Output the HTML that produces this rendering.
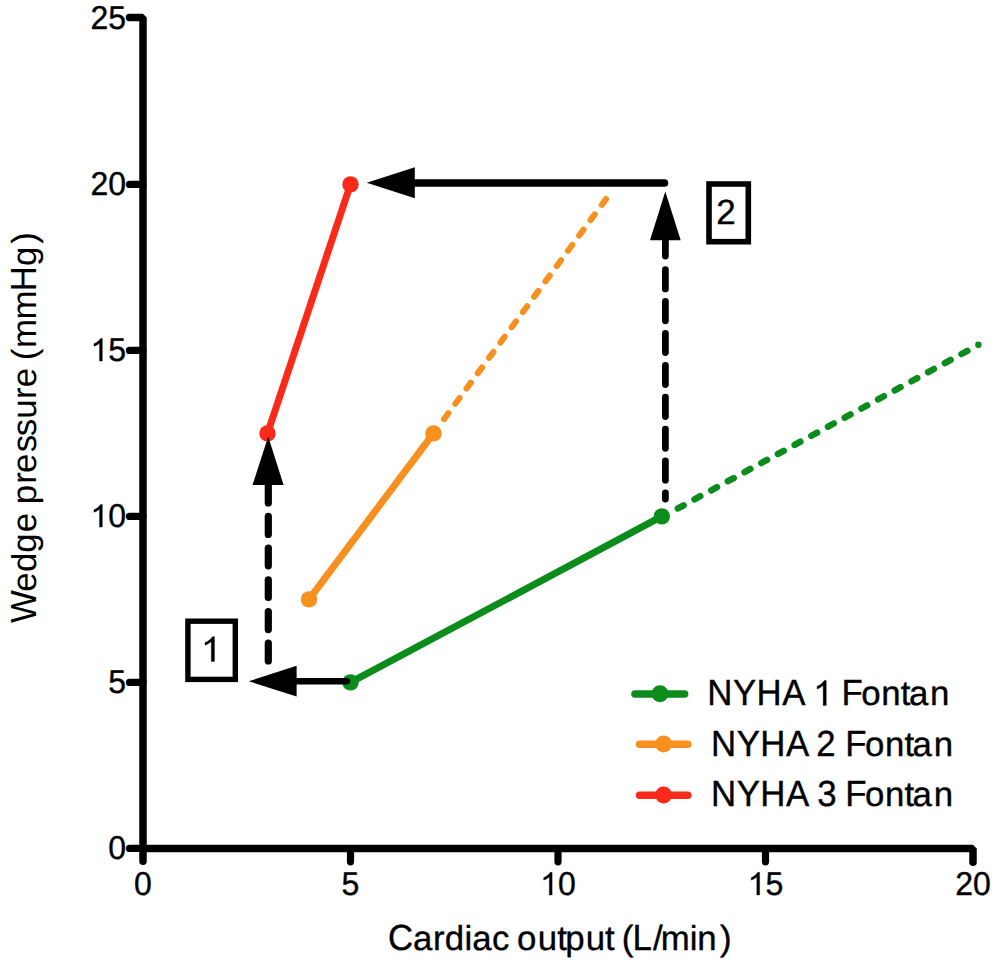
<!DOCTYPE html>
<html><head><meta charset="utf-8"><style>
html,body{margin:0;padding:0;background:#fff;}
body{width:1000px;height:966px;overflow:hidden;}
svg{display:block;}
.t{font-family:"Liberation Sans",sans-serif;fill:#000;stroke:#000;stroke-width:0.35px;text-rendering:geometricPrecision;}
.ns{stroke:none;}
</style></head><body>
<svg width="1000" height="966" viewBox="0 0 1000 966">
<rect width="1000" height="966" fill="#fff"/>
<path d="M129.5,17.55 H143 V861.2" fill="none" stroke="#000" stroke-width="7.5" stroke-linejoin="bevel" stroke-linecap="round"/>
<path d="M143,848.4 H973.0 V862.2" fill="none" stroke="#000" stroke-width="7.5" stroke-linejoin="bevel" stroke-linecap="round"/>
<line x1="129.5" y1="848.4" x2="143" y2="848.4" stroke="#000" stroke-width="7.2" stroke-linecap="round"/>
<line x1="129.5" y1="682.4" x2="143" y2="682.4" stroke="#000" stroke-width="7.2" stroke-linecap="round"/>
<line x1="129.5" y1="516.4" x2="143" y2="516.4" stroke="#000" stroke-width="7.2" stroke-linecap="round"/>
<line x1="129.5" y1="350.4" x2="143" y2="350.4" stroke="#000" stroke-width="7.2" stroke-linecap="round"/>
<line x1="129.5" y1="184.4" x2="143" y2="184.4" stroke="#000" stroke-width="7.2" stroke-linecap="round"/>
<line x1="350.5" y1="850" x2="350.5" y2="861.8" stroke="#000" stroke-width="7.2" stroke-linecap="round"/>
<line x1="558.0" y1="850" x2="558.0" y2="861.8" stroke="#000" stroke-width="7.2" stroke-linecap="round"/>
<line x1="765.5" y1="850" x2="765.5" y2="861.8" stroke="#000" stroke-width="7.2" stroke-linecap="round"/>
<text transform="translate(108.20,859.1) scale(1,1.03)" class="t" font-size="32">0</text>
<text transform="translate(108.20,693.1) scale(1,1.03)" class="t" font-size="32">5</text>
<path d="M763,0H583V1130C500,1040 380,975 224,925V1075C420,1150 560,1280 647,1409H763Z" transform="translate(90.41,527.1) scale(0.015625,-0.016094)" fill="#000" stroke="#000" stroke-width="22.4"/>
<text transform="translate(108.20,527.1) scale(1,1.03)" class="t" font-size="32">0</text>
<path d="M763,0H583V1130C500,1040 380,975 224,925V1075C420,1150 560,1280 647,1409H763Z" transform="translate(90.41,361.1) scale(0.015625,-0.016094)" fill="#000" stroke="#000" stroke-width="22.4"/>
<text transform="translate(108.20,361.1) scale(1,1.03)" class="t" font-size="32">5</text>
<text transform="translate(90.41,195.1) scale(1,1.03)" class="t" font-size="32">2</text>
<text transform="translate(108.20,195.1) scale(1,1.03)" class="t" font-size="32">0</text>
<text transform="translate(90.41,29.1) scale(1,1.03)" class="t" font-size="32">2</text>
<text transform="translate(108.20,29.1) scale(1,1.03)" class="t" font-size="32">5</text>
<text transform="translate(134.10,895.0) scale(1,1.03)" class="t" font-size="32">0</text>
<text transform="translate(341.60,895.0) scale(1,1.03)" class="t" font-size="32">5</text>
<path d="M763,0H583V1130C500,1040 380,975 224,925V1075C420,1150 560,1280 647,1409H763Z" transform="translate(540.20,895.0) scale(0.015625,-0.016094)" fill="#000" stroke="#000" stroke-width="22.4"/>
<text transform="translate(558.00,895.0) scale(1,1.03)" class="t" font-size="32">0</text>
<path d="M763,0H583V1130C500,1040 380,975 224,925V1075C420,1150 560,1280 647,1409H763Z" transform="translate(747.70,895.0) scale(0.015625,-0.016094)" fill="#000" stroke="#000" stroke-width="22.4"/>
<text transform="translate(765.50,895.0) scale(1,1.03)" class="t" font-size="32">5</text>
<text transform="translate(955.20,895.0) scale(1,1.03)" class="t" font-size="32">2</text>
<text transform="translate(973.00,895.0) scale(1,1.03)" class="t" font-size="32">0</text>
<text transform="translate(387.98,949.5) scale(1,1.045)" class="t" font-size="34.8">C</text>
<text transform="translate(413.02,949.5) scale(1,0.99)" class="t" font-size="34.8">a</text>
<text transform="translate(432.94,949.5) scale(1,0.99)" class="t" font-size="34.8">r</text>
<text transform="translate(444.79,949.5) scale(1,0.99)" class="t" font-size="34.8">d</text>
<text transform="translate(464.42,949.5) scale(1,0.99)" class="t" font-size="34.8">i</text>
<text transform="translate(472.27,949.5) scale(1,0.99)" class="t" font-size="34.8">a</text>
<text transform="translate(492.02,949.5) scale(1,0.99)" class="t" font-size="34.8">c</text>
<text transform="translate(517.04,949.5) scale(1,0.99)" class="t" font-size="34.8">o</text>
<text transform="translate(537.74,949.5) scale(1,0.99)" class="t" font-size="34.8">u</text>
<text transform="translate(557.22,949.5) scale(1,0.99)" class="t" font-size="34.8">t</text>
<text transform="translate(565.26,949.5) scale(1,0.99)" class="t" font-size="34.8">p</text>
<text transform="translate(585.74,949.5) scale(1,0.99)" class="t" font-size="34.8">u</text>
<text transform="translate(605.07,949.5) scale(1,0.99)" class="t" font-size="34.8">t</text>
<text transform="translate(621.84,949.5)" class="t" font-size="34.8">(</text>
<text transform="translate(632.40,949.5) scale(1,1.045)" class="t" font-size="34.8">L</text>
<text transform="translate(653.00,949.5)" class="t" font-size="34.8">/</text>
<text transform="translate(660.69,949.5) scale(1,0.99)" class="t" font-size="34.8">m</text>
<text transform="translate(689.67,949.5) scale(1,0.99)" class="t" font-size="34.8">i</text>
<text transform="translate(697.19,949.5) scale(1,0.99)" class="t" font-size="34.8">n</text>
<text transform="translate(720.05,949.5)" class="t" font-size="34.8">)</text>
<text transform="translate(36.4,428.4) rotate(-90) translate(-194.55,0) scale(1,1.045)" class="t ns" font-size="34.8">W</text>
<text transform="translate(36.4,428.4) rotate(-90) translate(-163.28,0) scale(1,0.99)" class="t ns" font-size="34.8">e</text>
<text transform="translate(36.4,428.4) rotate(-90) translate(-143.66,0) scale(1,0.99)" class="t ns" font-size="34.8">d</text>
<text transform="translate(36.4,428.4) rotate(-90) translate(-124.46,0) scale(1,0.99)" class="t ns" font-size="34.8">g</text>
<text transform="translate(36.4,428.4) rotate(-90) translate(-103.78,0) scale(1,0.99)" class="t ns" font-size="34.8">e</text>
<text transform="translate(36.4,428.4) rotate(-90) translate(-75.94,0) scale(1,0.99)" class="t ns" font-size="34.8">p</text>
<text transform="translate(36.4,428.4) rotate(-90) translate(-55.31,0) scale(1,0.99)" class="t ns" font-size="34.8">r</text>
<text transform="translate(36.4,428.4) rotate(-90) translate(-44.58,0) scale(1,0.99)" class="t ns" font-size="34.8">e</text>
<text transform="translate(36.4,428.4) rotate(-90) translate(-23.97,0) scale(1,0.99)" class="t ns" font-size="34.8">s</text>
<text transform="translate(36.4,428.4) rotate(-90) translate(-7.77,0) scale(1,0.99)" class="t ns" font-size="34.8">s</text>
<text transform="translate(36.4,428.4) rotate(-90) translate(9.54,0) scale(1,0.99)" class="t ns" font-size="34.8">u</text>
<text transform="translate(36.4,428.4) rotate(-90) translate(29.49,0) scale(1,0.99)" class="t ns" font-size="34.8">r</text>
<text transform="translate(36.4,428.4) rotate(-90) translate(41.12,0) scale(1,0.99)" class="t ns" font-size="34.8">e</text>
<text transform="translate(36.4,428.4) rotate(-90) translate(68.04,0)" class="t ns" font-size="34.8">(</text>
<text transform="translate(36.4,428.4) rotate(-90) translate(80.49,0) scale(1,0.99)" class="t ns" font-size="34.8">m</text>
<text transform="translate(36.4,428.4) rotate(-90) translate(108.79,0) scale(1,0.99)" class="t ns" font-size="34.8">m</text>
<text transform="translate(36.4,428.4) rotate(-90) translate(137.25,0) scale(1,1.045)" class="t ns" font-size="34.8">H</text>
<text transform="translate(36.4,428.4) rotate(-90) translate(162.34,0) scale(1,0.99)" class="t ns" font-size="34.8">g</text>
<text transform="translate(36.4,428.4) rotate(-90) translate(184.70,0)" class="t ns" font-size="34.8">)</text>
<path d="M677.82,508.45L683.62,505.29M694.51,499.36L700.31,496.21M711.20,490.28L716.99,487.12M727.88,481.19L733.68,478.03M744.57,472.11L750.37,468.95M761.26,463.02L767.05,459.86M777.94,453.93L783.74,450.78M794.63,444.85L800.43,441.69M811.32,435.76L817.11,432.61M828.00,426.68L833.80,423.52M844.69,417.59L850.49,414.43M861.38,408.50L867.17,405.35M878.06,399.42L883.86,396.26M894.75,390.33L900.55,387.18M911.44,381.25L917.23,378.09M928.12,372.16L933.92,369.00M944.81,363.07L950.61,359.92M961.50,353.99L967.29,350.83M978.36,344.81l0.01,0" stroke="#0b8c1b" stroke-width="6.5" stroke-linecap="round" fill="none"/>
<path d="M444.05,419.07L448.32,413.27M455.32,403.77L459.59,397.97M466.59,388.47L470.86,382.67M477.85,373.17L482.12,367.37M489.12,357.87L493.39,352.07M500.39,342.57L504.65,336.77M511.65,327.27L515.92,321.47M522.92,311.97L527.19,306.17M534.18,296.67L538.45,290.87M545.45,281.37L549.72,275.57M556.72,266.07L560.99,260.27M567.98,250.77L572.25,244.98M579.25,235.47L583.52,229.68M590.51,220.17L594.78,214.38M601.78,204.87L606.05,199.08" stroke="#f8901f" stroke-width="6.1" stroke-linecap="round" fill="none"/>
<line x1="350.5" y1="682.4" x2="661.8" y2="516.4" stroke="#0b8c1b" stroke-width="7"/>
<line x1="309.0" y1="599.4" x2="433.5" y2="433.4" stroke="#f8901f" stroke-width="7"/>
<line x1="267.5" y1="433.4" x2="350.5" y2="184.4" stroke="#fa2a1a" stroke-width="7"/>
<circle cx="350.5" cy="682.4" r="8.2" fill="#0b8c1b"/>
<circle cx="661.8" cy="516.4" r="8.2" fill="#0b8c1b"/>
<circle cx="309.0" cy="599.4" r="8.2" fill="#f8901f"/>
<circle cx="433.5" cy="433.4" r="8.2" fill="#f8901f"/>
<circle cx="267.5" cy="433.4" r="8.2" fill="#fa2a1a"/>
<circle cx="350.5" cy="184.4" r="8.2" fill="#fa2a1a"/>
<line x1="347" y1="681.2" x2="290" y2="681.2" stroke="#000" stroke-width="6.6" stroke-linecap="round"/>
<polygon points="248.8,681.2 296.6,665.8 296.6,696.6" fill="#000"/>
<line x1="268.3" y1="660.9" x2="268.3" y2="643.0" stroke="#000" stroke-width="7.2" stroke-linecap="round"/>
<line x1="268.3" y1="629.6" x2="268.3" y2="611.6" stroke="#000" stroke-width="7.2" stroke-linecap="round"/>
<line x1="268.3" y1="597.5" x2="268.3" y2="579.9" stroke="#000" stroke-width="7.2" stroke-linecap="round"/>
<line x1="268.3" y1="565.8" x2="268.3" y2="548.2" stroke="#000" stroke-width="7.2" stroke-linecap="round"/>
<line x1="268.3" y1="534.4" x2="268.3" y2="516.3" stroke="#000" stroke-width="7.2" stroke-linecap="round"/>
<line x1="268.3" y1="502.9" x2="268.3" y2="483.6" stroke="#000" stroke-width="7.2" stroke-linecap="round"/>
<polygon points="268.2,436.6 252.5,485.1 283.6,485.1" fill="#000"/>
<line x1="665.4" y1="499.1" x2="665.4" y2="492.8" stroke="#000" stroke-width="6.8" stroke-linecap="round"/>
<line x1="665.4" y1="480.2" x2="665.4" y2="460.9" stroke="#000" stroke-width="6.8" stroke-linecap="round"/>
<line x1="665.4" y1="448.3" x2="665.4" y2="429.1" stroke="#000" stroke-width="6.8" stroke-linecap="round"/>
<line x1="665.4" y1="416.5" x2="665.4" y2="397.2" stroke="#000" stroke-width="6.8" stroke-linecap="round"/>
<line x1="665.4" y1="384.6" x2="665.4" y2="365.3" stroke="#000" stroke-width="6.8" stroke-linecap="round"/>
<line x1="665.4" y1="352.6" x2="665.4" y2="333.4" stroke="#000" stroke-width="6.8" stroke-linecap="round"/>
<line x1="665.4" y1="320.8" x2="665.4" y2="301.5" stroke="#000" stroke-width="6.8" stroke-linecap="round"/>
<line x1="665.4" y1="288.9" x2="665.4" y2="269.6" stroke="#000" stroke-width="6.8" stroke-linecap="round"/>
<line x1="665.4" y1="256.1" x2="665.4" y2="239.4" stroke="#000" stroke-width="6.8" stroke-linecap="round"/>
<polygon points="665.3,191.5 650,240.2 680.7,240.2" fill="#000"/>
<line x1="664.5" y1="183" x2="410" y2="183" stroke="#000" stroke-width="7.6" stroke-linecap="round"/>
<polygon points="366.8,182.8 414.8,167.3 414.8,198.3" fill="#000"/>
<rect x="187.9" y="621.2" width="47.4" height="58.2" fill="#fff" stroke="#000" stroke-width="5.4"/>
<path d="M763,0H583V1130C500,1040 380,975 224,925V1075C420,1150 560,1280 647,1409H763Z" transform="translate(201.06,661.4) scale(0.017578,-0.017578)" fill="#000" stroke="#000" stroke-width="19.9"/>
<rect x="709" y="184" width="39.3" height="57.7" fill="#fff" stroke="#000" stroke-width="5.6"/>
<text transform="translate(716.24,224.1)" class="t" font-size="35">2</text>
<line x1="635" y1="694" x2="684.6" y2="694" stroke="#0b8c1b" stroke-width="7.6" stroke-linecap="round"/>
<circle cx="660" cy="693.7" r="8.5" fill="#0b8c1b"/>
<text transform="translate(707.25,705.4) scale(1,1.045)" class="t" font-size="34.8">N</text>
<text transform="translate(733.04,705.4) scale(1,1.045)" class="t" font-size="34.8">Y</text>
<text transform="translate(756.45,705.4) scale(1,1.045)" class="t" font-size="34.8">H</text>
<text transform="translate(782.23,705.4) scale(1,1.045)" class="t" font-size="34.8">A</text>
<path d="M763,0H583V1130C500,1040 380,975 224,925V1075C420,1150 560,1280 647,1409H763Z" transform="translate(813.29,705.4) scale(0.016992,-0.017757)" fill="#000" stroke="#000" stroke-width="20.6"/>
<text transform="translate(841.45,705.4) scale(1,1.045)" class="t" font-size="34.8">F</text>
<text transform="translate(861.34,705.4) scale(1,0.99)" class="t" font-size="34.8">o</text>
<text transform="translate(881.19,705.4) scale(1,0.99)" class="t" font-size="34.8">n</text>
<text transform="translate(900.87,705.4) scale(1,0.99)" class="t" font-size="34.8">t</text>
<text transform="translate(908.92,705.4) scale(1,0.99)" class="t" font-size="34.8">a</text>
<text transform="translate(929.99,705.4) scale(1,0.99)" class="t" font-size="34.8">n</text>
<line x1="639.6" y1="744.2" x2="687.8" y2="744.2" stroke="#f8901f" stroke-width="7.6" stroke-linecap="round"/>
<circle cx="663.6" cy="743.9000000000001" r="8.5" fill="#f8901f"/>
<text transform="translate(710.95,755.95) scale(1,1.045)" class="t" font-size="34.8">N</text>
<text transform="translate(736.74,755.95) scale(1,1.045)" class="t" font-size="34.8">Y</text>
<text transform="translate(760.15,755.95) scale(1,1.045)" class="t" font-size="34.8">H</text>
<text transform="translate(785.93,755.95) scale(1,1.045)" class="t" font-size="34.8">A</text>
<text transform="translate(816.25,755.95) scale(1,1.045)" class="t" font-size="34.8">2</text>
<text transform="translate(845.15,755.95) scale(1,1.045)" class="t" font-size="34.8">F</text>
<text transform="translate(865.04,755.95) scale(1,0.99)" class="t" font-size="34.8">o</text>
<text transform="translate(884.89,755.95) scale(1,0.99)" class="t" font-size="34.8">n</text>
<text transform="translate(904.57,755.95) scale(1,0.99)" class="t" font-size="34.8">t</text>
<text transform="translate(912.62,755.95) scale(1,0.99)" class="t" font-size="34.8">a</text>
<text transform="translate(933.69,755.95) scale(1,0.99)" class="t" font-size="34.8">n</text>
<line x1="639.6" y1="795.2" x2="687.8" y2="795.2" stroke="#fa2a1a" stroke-width="7.6" stroke-linecap="round"/>
<circle cx="663.6" cy="794.9000000000001" r="8.5" fill="#fa2a1a"/>
<text transform="translate(710.95,806.25) scale(1,1.045)" class="t" font-size="34.8">N</text>
<text transform="translate(736.74,806.25) scale(1,1.045)" class="t" font-size="34.8">Y</text>
<text transform="translate(760.15,806.25) scale(1,1.045)" class="t" font-size="34.8">H</text>
<text transform="translate(785.93,806.25) scale(1,1.045)" class="t" font-size="34.8">A</text>
<text transform="translate(817.17,806.25) scale(1,1.045)" class="t" font-size="34.8">3</text>
<text transform="translate(845.15,806.25) scale(1,1.045)" class="t" font-size="34.8">F</text>
<text transform="translate(865.04,806.25) scale(1,0.99)" class="t" font-size="34.8">o</text>
<text transform="translate(884.89,806.25) scale(1,0.99)" class="t" font-size="34.8">n</text>
<text transform="translate(904.57,806.25) scale(1,0.99)" class="t" font-size="34.8">t</text>
<text transform="translate(912.62,806.25) scale(1,0.99)" class="t" font-size="34.8">a</text>
<text transform="translate(933.69,806.25) scale(1,0.99)" class="t" font-size="34.8">n</text>
</svg>
</body></html>
